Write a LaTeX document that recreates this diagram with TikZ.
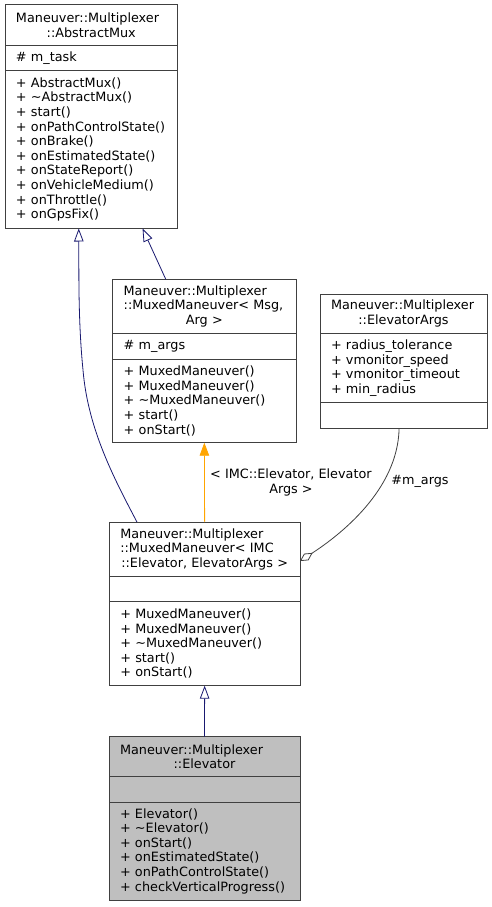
\documentclass[tikz,border=0pt]{standalone}
\usepackage{fontspec}
\setmainfont{DejaVu Sans}
\usepackage{tikz}
\usetikzlibrary{arrows.meta, positioning}
\definecolor{edgeblue}{HTML}{191970}
\definecolor{tmplorange}{HTML}{FFA500}
\definecolor{linegray}{HTML}{404040}
\definecolor{boxgray}{HTML}{BFBFBF}
% class title: left lines, last line centred
\newcommand{\clsname}[2]{#1\\\makebox[\linewidth]{#2}}

\begin{document}
\begin{tikzpicture}[
  x=1pt, y=-1pt, font=\fontsize{12.8}{14.6}\selectfont,
  sec/.style={draw=linegray, line width=1pt, fill=white, inner xsep=11pt, inner ysep=0pt,
    outer sep=0pt, minimum width=#1, text width=#1-22pt, align=left, anchor=north west},
  inh/.style={-{Triangle[open, length=13pt, width=9.5pt]}, edgeblue, line width=0.8pt},
  tpl/.style={-{Triangle[length=13pt, width=9.5pt]}, tmplorange, line width=0.8pt},
  usage/.style={-{Diamond[open, length=15pt, width=8pt]}, linegray, line width=0.8pt}]
  \path[use as bounding box, fill=white] (0,0) rectangle (492,907);
  % AbstractMux
  \node[sec=172.5, minimum height=41] (am0) at (5,5) {\clsname{Maneuver::Multiplexer}{::AbstractMux}};
  \node[sec=172.5, minimum height=24.5, below=0pt of am0] (am1) {\# m\_task};
  \node[sec=172.5, minimum height=158, below=0pt of am1] (am2) {+ AbstractMux()\\+ \textasciitilde AbstractMux()\\+ start()\\+ onPathControlState()\\+ onBrake()\\+ onEstimatedState()\\+ onStateReport()\\+ onVehicleMedium()\\+ onThrottle()\\+ onGpsFix()};
  % MuxedManeuver< Msg, Arg >
  \node[sec=183.3, minimum height=54] (mm0) at (112.7,279.3) {\clsname{Maneuver::Multiplexer\\::MuxedManeuver< Msg,}{Arg >}};
  \node[sec=183.3, minimum height=25.7, below=0pt of mm0] (mm1) {\# m\_args};
  \node[sec=183.3, minimum height=83.7, below=0pt of mm1] (mm2) {+ MuxedManeuver()\\+ MuxedManeuver()\\+ \textasciitilde MuxedManeuver()\\+ start()\\+ onStart()};
  % ElevatorArgs
  \node[sec=167, minimum height=39.3] (ea0) at (320,294) {\clsname{Maneuver::Multiplexer}{::ElevatorArgs}};
  \node[sec=167, minimum height=69.4, below=0pt of ea0] (ea1) {+ radius\_tolerance\\+ vmonitor\_speed\\+ vmonitor\_timeout\\+ min\_radius};
  \node[sec=167, minimum height=25.6, below=0pt of ea1] (ea2) {};
  % MuxedManeuver< IMC::Elevator, ElevatorArgs >
  \node[sec=190.7, minimum height=54.7] (mi0) at (109.3,522) {\clsname{Maneuver::Multiplexer\\::MuxedManeuver< IMC}{::Elevator, ElevatorArgs >}};
  \node[sec=190.7, minimum height=25, below=0pt of mi0] (mi1) {};
  \node[sec=190.7, minimum height=84, below=0pt of mi1] (mi2) {+ MuxedManeuver()\\+ MuxedManeuver()\\+ \textasciitilde MuxedManeuver()\\+ start()\\+ onStart()};
  % Elevator
  \node[sec=191, fill=boxgray, minimum height=40] (el0) at (109,736.7) {\clsname{Maneuver::Multiplexer}{::Elevator}};
  \node[sec=191, fill=boxgray, minimum height=25.3, below=0pt of el0] (el1) {};
  \node[sec=191, fill=boxgray, minimum height=98, below=0pt of el1] (el2) {+ Elevator()\\+ \textasciitilde Elevator()\\+ onStart()\\+ onEstimatedState()\\+ onPathControlState()\\+ checkVerticalProgress()};
  % edges
  \draw[inh] (mm0.145) -- (am2.-57);
  \draw[inh] (mi0.158) .. controls (115,480) and (88,430) .. (83,370)
    .. controls (78,320) and (79,270) .. (am2.-99);
  \draw[tpl] (mi0.north) -- (mm2.south)
    node[midway, right=2pt, align=center, text=black] (tplarg) {< IMC::Elevator, Elevator\\Args >};
  \draw[usage] (ea2.-109) .. controls (398,490) and (340,535) .. (mi0.-7);
  \node (usearg) at (420,481) {\#m\_args};
  \draw[inh] (el0.north) -- (mi2.south);
\end{tikzpicture}
\end{document}
